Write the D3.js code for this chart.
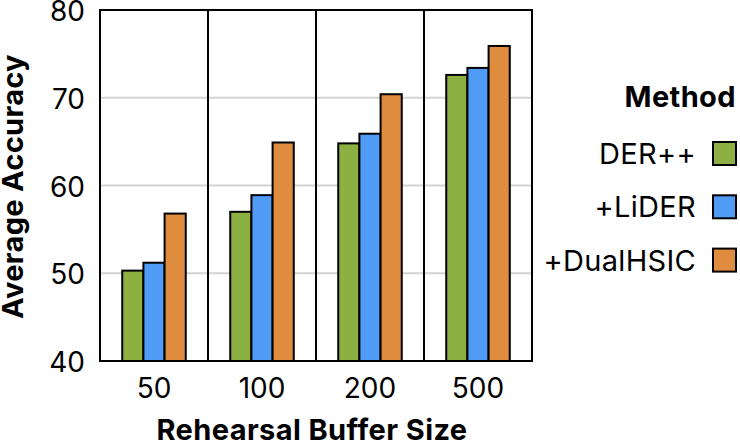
<!DOCTYPE html>
<html><head><meta charset="utf-8">
<script src="https://cdn.jsdelivr.net/npm/d3@7"></script>
<style>body{margin:0;background:#fff}svg{display:block}text{font-family:Inter,"Noto Sans",sans-serif}</style>
</head><body>
<script>
const buffers = ["50","100","200","500"];
const methods = ["DER++","+LiDER","+DualHSIC"];
const derpp  = [50.3, 57.0, 64.8, 72.6];
const lider  = [51.2, 58.9, 65.9, 73.4];
const dual   = [56.8, 64.9, 70.4, 75.9];
const yTicks = [40,50,60,70,80];
const colors = ["#8db043","#4f9bf5","#e08c3e"];
const series = [derpp, lider, dual];

const W=740,H=441;
const m={l:100,r:208,t:10,b:80};
const FS=28, FT=29;
const svg=d3.select("body").append("svg").attr("width",W).attr("height",H);

const x=d3.scaleBand().domain(buffers).range([m.l,W-m.r]).padding(0);
const y=d3.scaleLinear().domain([40,80]).range([H-m.b,m.t]);
const inner=d3.scaleBand().domain(methods).range([0,x.bandwidth()]).paddingOuter(1.05).paddingInner(0);

// gridlines
svg.append("g").selectAll("line").data(yTicks.slice(1,-1)).join("line")
  .attr("x1",m.l).attr("x2",W-m.r).attr("y1",d=>y(d)).attr("y2",d=>y(d))
  .attr("stroke","#d3d3d3").attr("stroke-width",2);

// bars
buffers.forEach((b,i)=>{
  const g=svg.append("g").attr("transform",`translate(${x(b)},0)`);
  methods.forEach((mm,j)=>{
    g.append("rect").attr("x",inner(mm)).attr("width",inner.bandwidth())
      .attr("y",y(series[j][i])).attr("height",y(40)-y(series[j][i]))
      .attr("fill",colors[j]).attr("stroke","#000").attr("stroke-width",2);
  });
});

// panel borders
buffers.forEach(b=>{
  svg.append("rect").attr("x",x(b)).attr("y",m.t).attr("width",x.bandwidth()).attr("height",y(40)-m.t)
    .attr("fill","none").attr("stroke","#000").attr("stroke-width",2);
});

// y tick labels
svg.append("g").selectAll("text").data(yTicks).join("text")
  .attr("x",85).attr("y",d=>y(d)+1).attr("dy","0.36em").attr("text-anchor","end")
  .attr("font-size",FS).attr("fill","#000").text(d=>d);

// x tick labels
svg.append("g").selectAll("text").data(buffers).join("text")
  .attr("x",d=>x(d)+x.bandwidth()/2).attr("y",398).attr("text-anchor","middle")
  .attr("font-size",FS).attr("fill","#000").text(d=>d);

// axis titles
svg.append("text").attr("x",(m.l+W-m.r)/2-4).attr("y",439.5).attr("text-anchor","middle")
  .attr("font-size",FT).attr("font-weight",700).attr("letter-spacing",0.4).text("Rehearsal Buffer Size");
svg.append("text").attr("transform",`translate(23,${(m.t+H-m.b)/2+1}) rotate(-90)`).attr("text-anchor","middle")
  .attr("font-size",FT).attr("font-weight",700).attr("letter-spacing",0.3).text("Average Accuracy");

// legend
svg.append("text").attr("x",736).attr("y",107).attr("text-anchor","end")
  .attr("font-size",FT).attr("font-weight",700).attr("letter-spacing",0.4).text("Method");
methods.forEach((mm,j)=>{
  const cy=153.5+j*53.3;
  svg.append("rect").attr("x",713).attr("y",cy-11.5).attr("width",23).attr("height",23)
    .attr("fill",colors[j]).attr("stroke","#000").attr("stroke-width",2);
  svg.append("text").attr("x",696).attr("y",cy).attr("dy","0.36em").attr("text-anchor","end")
    .attr("font-size",FT).attr("letter-spacing",0.3).text(mm);
});
</script>
</body></html>
